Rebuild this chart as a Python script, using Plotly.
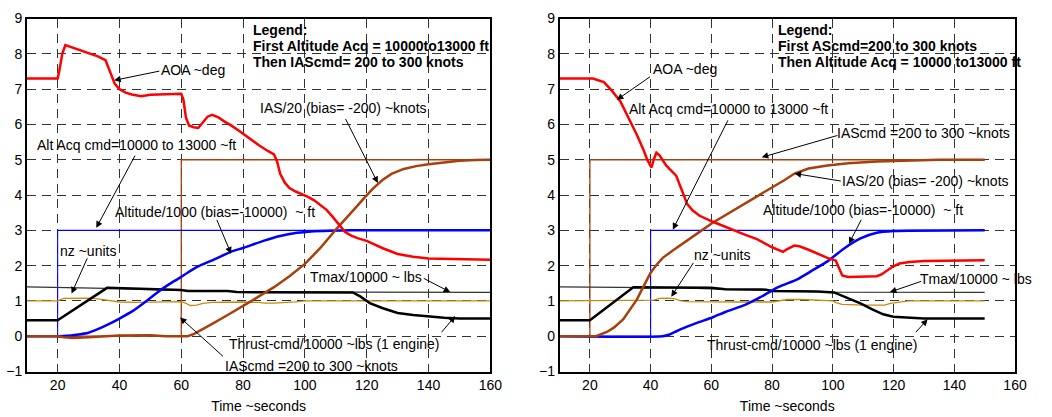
import plotly.graph_objects as go

# ---------------- Left panel: first Altitude Acq, then IAS cmd ----------------
L_aoa_t = [10, 20, 20.5, 21.5, 22.5, 23.5, 26, 29, 33, 35.5, 36.5, 37.5, 38.5, 40, 42, 44, 47, 50, 55, 60,
           60.7, 61.5, 62.5, 64, 65.5, 67, 68.5, 70, 72, 74, 76, 79, 82, 85, 88, 90, 91, 92, 93.5, 95, 97,
           99, 101, 103, 105, 107, 109, 111, 113, 115, 117, 120, 125, 130, 135, 140, 150, 160]
L_aoa_v = [7.3, 7.3, 7.5, 8.0, 8.25, 8.22, 8.15, 8.05, 7.93, 7.82, 7.6, 7.35, 7.15, 7.0, 6.9, 6.85, 6.8, 6.84,
           6.85, 6.87, 6.7, 6.2, 5.97, 5.92, 5.9, 6.05, 6.22, 6.27, 6.2, 6.08, 5.98, 5.8, 5.6, 5.42, 5.25,
           5.15, 4.95, 4.6, 4.35, 4.2, 4.1, 4.03, 3.95, 3.85, 3.72, 3.58, 3.38, 3.15, 2.95, 2.85, 2.78, 2.7,
           2.5, 2.33, 2.25, 2.2, 2.18, 2.17]

L_ias_t = [10, 20, 22, 25, 30, 40, 50, 55, 60, 62, 64, 66, 68, 70, 75, 80, 85, 90, 95, 100, 105, 110, 113,
           116, 119, 122, 125, 128, 132, 136, 140, 145, 150, 155, 160]
L_ias_v = [0, 0, -0.03, -0.05, -0.03, 0.02, 0.03, 0.0, 0.0, 0.0, 0.06, 0.15, 0.25, 0.35, 0.6, 0.85, 1.12,
           1.39, 1.7, 2.05, 2.5, 3.02, 3.3, 3.6, 3.9, 4.18, 4.42, 4.6, 4.74, 4.82, 4.87, 4.93, 4.97, 4.99, 5.0]

L_iascmd_t = [10, 60, 60, 160]
L_iascmd_v = [0, 0, 5, 5]

L_altcmd_t = [10, 20, 20, 160]
L_altcmd_v = [0, 0, 3, 3]

L_alt_t = [10, 20, 23, 26, 30, 33, 36.7, 40, 44.2, 48, 52.7, 56, 59.6, 62, 65.5, 70, 76, 80, 86.8, 92,
           97.5, 102, 108, 115, 160]
L_alt_v = [0, 0, 0.01, 0.04, 0.1, 0.2, 0.35, 0.5, 0.71, 0.95, 1.27, 1.47, 1.66, 1.8, 1.98, 2.15, 2.39,
           2.5, 2.71, 2.84, 2.93, 2.97, 2.99, 3.0, 3.0]

L_tmax_t = [10, 30, 40, 50, 60, 70, 80, 115, 160]
L_tmax_v = [1.4, 1.38, 1.35, 1.32, 1.3, 1.28, 1.26, 1.25, 1.24]

L_thr_t = [10, 20, 36, 45, 55, 60, 62, 75, 78, 100, 115.5, 118, 121, 125, 130, 135, 140, 145, 150, 160]
L_thr_v = [0.45, 0.45, 1.37, 1.35, 1.32, 1.31, 1.28, 1.28, 1.25, 1.25, 1.24, 1.12, 0.94, 0.8, 0.66, 0.6,
           0.55, 0.52, 0.5, 0.5]

L_nz_t = [10, 20, 22, 25, 30, 33, 36, 38, 40, 45, 50, 55, 60, 61, 62, 63, 65, 67, 70, 75, 80, 85, 87, 90,
          95, 97, 100, 110, 120, 160]
L_nz_v = [1, 1, 1.07, 1.08, 1.08, 1.06, 1.02, 0.99, 0.97, 0.96, 0.97, 0.97, 0.98, 0.95, 0.9, 0.87, 0.88,
          0.93, 0.96, 0.97, 0.97, 0.96, 0.94, 0.94, 0.95, 0.97, 1.0, 1.0, 1.0, 1.0]

# ---------------- Right panel: first IAS cmd, then Altitude Acq ----------------
R_aoa_t = [10, 21, 24.6, 27, 30, 33.2, 35.5, 37.6, 39, 40.3, 41, 41.9, 43, 45.1, 47, 48.4, 50, 52, 53.8,
           56, 60.3, 65, 71, 75, 80, 83.6, 85, 87.3, 89, 92, 95, 98.2, 101, 102, 103.1, 105, 110, 114.5,
           116, 118, 119.9, 122, 125.3, 130, 140, 150]
R_aoa_v = [7.3, 7.3, 7.2, 6.98, 6.66, 6.11, 5.7, 5.29, 4.98, 4.78, 5.0, 5.2, 5.12, 4.84, 4.68, 4.55, 4.2,
           3.75, 3.57, 3.42, 3.25, 3.08, 2.88, 2.75, 2.52, 2.39, 2.47, 2.57, 2.55, 2.45, 2.33, 2.22, 2.14,
           1.95, 1.72, 1.68, 1.68, 1.7, 1.75, 1.88, 1.98, 2.06, 2.1, 2.13, 2.15, 2.15]

R_ias_t = [10, 22, 25.6, 28, 31, 33, 35.4, 37, 38.6, 40, 41.9, 44, 47.3, 52, 56, 60.3, 65, 71.1, 75, 79.8,
           84, 87.4, 92, 98.2, 105, 114.5, 125, 135, 150]
R_ias_v = [0, 0, 0.12, 0.25, 0.48, 0.72, 1.03, 1.3, 1.57, 1.8, 2.02, 2.22, 2.43, 2.7, 2.95, 3.21, 3.45,
           3.75, 3.95, 4.2, 4.42, 4.61, 4.75, 4.84, 4.9, 4.95, 4.98, 5.0, 5.0]

R_iascmd_t = [10, 20, 20, 150]
R_iascmd_v = [0, 0, 5, 5]

R_altcmd_t = [10, 40, 40, 150]
R_altcmd_v = [0, 0, 3, 3]

R_alt_t = [10, 44, 46, 48, 50, 55, 60.3, 65, 71.1, 76, 82, 88.5, 93, 98.2, 103.6, 109.1, 114.5, 120,
           125.3, 150]
R_alt_v = [0, 0, 0.04, 0.12, 0.2, 0.37, 0.53, 0.7, 0.89, 1.1, 1.39, 1.62, 1.85, 2.12, 2.48, 2.77, 2.93,
           2.98, 2.99, 3.0]

R_tmax_t = [10, 35, 50, 65, 80, 100, 150]
R_tmax_v = [1.4, 1.39, 1.37, 1.33, 1.3, 1.25, 1.24]

R_thr_t = [10, 20, 34.3, 50, 60, 64.6, 78, 80, 95, 100.4, 104, 109.1, 113, 116.6, 119.9, 125, 130, 150]
R_thr_v = [0.45, 0.45, 1.39, 1.38, 1.37, 1.33, 1.32, 1.28, 1.27, 1.24, 1.12, 0.93, 0.76, 0.62, 0.55,
           0.52, 0.5, 0.5]

R_nz_t = [10, 40, 41, 43, 46, 48, 50, 52, 60, 70, 80, 83, 85, 90, 95, 98, 100, 101, 103, 110, 117, 119,
          122, 125, 150]
R_nz_v = [1, 1, 1.02, 1.07, 1.08, 1.06, 1.0, 0.98, 0.97, 0.97, 0.97, 1.0, 1.04, 1.04, 1.03, 1.02, 1.0,
          0.95, 0.9, 0.88, 0.88, 0.93, 0.97, 1.0, 1.0]

x_ticks = [20, 40, 60, 80, 100, 120, 140, 160]
y_ticks = [-1, 0, 1, 2, 3, 4, 5, 6, 7, 8, 9]

legend_L = ["Legend:", "First Altitude Acq = 10000to13000 ft", "Then IAScmd= 200 to 300 knots"]
legend_R = ["Legend:", "First AScmd=200 to 300 knots", "Then Altitude Acq = 10000 to13000 ft"]

RED = "#ff0000"
BROWN = "#a8400c"
BLUE = "#0000ff"
GOLD = "#c88a10"
FONT = "Liberation Sans, Arial, sans-serif"

fig = go.Figure()


def add_panel(xa, ya, d):
    fig.add_trace(go.Scatter(x=d["iascmd_t"], y=d["iascmd_v"], mode="lines",
                             line=dict(color=BROWN, width=1.3), xaxis=xa, yaxis=ya))
    fig.add_trace(go.Scatter(x=d["altcmd_t"], y=d["altcmd_v"], mode="lines",
                             line=dict(color=BLUE, width=1.1), xaxis=xa, yaxis=ya))
    fig.add_trace(go.Scatter(x=d["tmax_t"], y=d["tmax_v"], mode="lines",
                             line=dict(color="#333333", width=1.2), xaxis=xa, yaxis=ya))
    fig.add_trace(go.Scatter(x=d["nz_t"], y=d["nz_v"], mode="lines",
                             line=dict(color=GOLD, width=1.3), xaxis=xa, yaxis=ya))
    fig.add_trace(go.Scatter(x=d["thr_t"], y=d["thr_v"], mode="lines",
                             line=dict(color="black", width=2.5), xaxis=xa, yaxis=ya))
    fig.add_trace(go.Scatter(x=d["alt_t"], y=d["alt_v"], mode="lines",
                             line=dict(color=BLUE, width=2.5, shape="spline", smoothing=0.6), xaxis=xa, yaxis=ya))
    fig.add_trace(go.Scatter(x=d["ias_t"], y=d["ias_v"], mode="lines",
                             line=dict(color=BROWN, width=2.5), xaxis=xa, yaxis=ya))
    fig.add_trace(go.Scatter(x=d["aoa_t"], y=d["aoa_v"], mode="lines",
                             line=dict(color=RED, width=2.5), xaxis=xa, yaxis=ya))


add_panel("x", "y", dict(aoa_t=L_aoa_t, aoa_v=L_aoa_v, ias_t=L_ias_t, ias_v=L_ias_v,
                         iascmd_t=L_iascmd_t, iascmd_v=L_iascmd_v, altcmd_t=L_altcmd_t, altcmd_v=L_altcmd_v,
                         alt_t=L_alt_t, alt_v=L_alt_v, tmax_t=L_tmax_t, tmax_v=L_tmax_v,
                         thr_t=L_thr_t, thr_v=L_thr_v, nz_t=L_nz_t, nz_v=L_nz_v))
add_panel("x2", "y2", dict(aoa_t=R_aoa_t, aoa_v=R_aoa_v, ias_t=R_ias_t, ias_v=R_ias_v,
                           iascmd_t=R_iascmd_t, iascmd_v=R_iascmd_v, altcmd_t=R_altcmd_t, altcmd_v=R_altcmd_v,
                           alt_t=R_alt_t, alt_v=R_alt_v, tmax_t=R_tmax_t, tmax_v=R_tmax_v,
                           thr_t=R_thr_t, thr_v=R_thr_v, nz_t=R_nz_t, nz_v=R_nz_v))

annotations = []


def label(xr, yr, x, y, text, anchor="center", bold=False, size=14):
    annotations.append(dict(xref=xr, yref=yr, x=x, y=y, text=("<b>%s</b>" % text) if bold else text,
                            showarrow=False, xanchor=anchor, yanchor="middle",
                            font=dict(family=FONT, size=size, color="black")))


def arrow(xr, yr, tail, tip):
    annotations.append(dict(xref=xr, yref=yr, axref=xr, ayref=yr, x=tip[0], y=tip[1], ax=tail[0], ay=tail[1],
                            text="", showarrow=True, arrowhead=2, arrowsize=1.3, arrowwidth=1,
                            arrowcolor="black", standoff=0, startstandoff=0))


# left panel labels
for txt, yv in zip(legend_L, [8.67, 8.22, 7.77]):
    label("x", "y", 82.4, yv, txt, anchor="left", bold=True, size=14)
label("x", "y", 63.9, 7.55, "AOA ~deg")
arrow("x", "y", (53.4, 7.52), (38.3, 7.25))
label("x", "y", 112.5, 6.48, "IAS/20 (bias= -200) ~knots")
arrow("x", "y", (112.9, 6.2), (123.6, 4.34))
label("x", "y", 45.4, 5.43, "Alt Acq cmd=10000 to 13000 ~ft")
arrow("x", "y", (45.3, 5.16), (32.5, 3.07))
label("x", "y", 70.8, 3.52, "Altitude/1000 (bias=-10000)  ~ ft")
arrow("x", "y", (71.3, 3.34), (76.1, 2.34))
label("x", "y", 29.7, 2.42, "nz ~units")
arrow("x", "y", (29.8, 2.25), (24.5, 1.21))
label("x", "y", 119.8, 1.68, "Tmax/10000 ~ lbs")
arrow("x", "y", (138.0, 1.66), (147.0, 1.25))
label("x", "y", 109.6, -0.22, "Thrust-cmd/10000 ~lbs (1 engine)")
arrow("x", "y", (143.8, 0.07), (148.6, 0.57))
label("x", "y", 102.0, -0.85, "IAScmd =200 to 300 ~knots")
arrow("x", "y", (74.0, -0.61), (59.6, 0.53))

# right panel labels
for txt, yv in zip(legend_R, [8.67, 8.22, 7.77]):
    label("x2", "y2", 81.4, yv, txt, anchor="left", bold=True, size=14)
label("x2", "y2", 51.4, 7.58, "AOA ~deg")
arrow("x2", "y2", (40.3, 7.38), (28.9, 6.7))
label("x2", "y2", 65.5, 6.43, "Alt Acq cmd=10000 to 13000 ~ft")
arrow("x2", "y2", (65.7, 6.16), (47.3, 3.02))
label("x2", "y2", 129.9, 5.75, "IAScmd =200 to 300 ~knots")
arrow("x2", "y2", (102.0, 5.70), (76.6, 5.07))
label("x2", "y2", 130.5, 4.39, "IAS/20 (bias= -200) ~knots")
arrow("x2", "y2", (103.1, 4.39), (87.4, 4.61))
label("x2", "y2", 110.0, 3.57, "Altitude/1000 (bias=-10000)  ~ ft")
arrow("x2", "y2", (109.6, 3.34), (105.3, 2.62))
label("x2", "y2", 63.6, 2.3, "nz ~units")
arrow("x2", "y2", (54.4, 2.12), (46.8, 1.12))
label("x2", "y2", 147.3, 1.62, "Tmax/10000 ~ lbs")
arrow("x2", "y2", (129.6, 1.57), (118.8, 1.25))
label("x2", "y2", 93.3, -0.25, "Thrust-cmd/10000 ~lbs (1 engine)")
arrow("x2", "y2", (126.9, 0.07), (131.2, 0.48))

axis_common = dict(showline=True, linecolor="black", linewidth=1.5, mirror=True,
                   showgrid=True, gridcolor="#333333", gridwidth=1, griddash="9px,6px",
                   zeroline=False, ticks="", tickfont=dict(family=FONT, size=14, color="black"))

fig.update_layout(
    width=1052, height=417, margin=dict(l=0, r=0, t=0, b=0),
    paper_bgcolor="white", plot_bgcolor="white", showlegend=False,
    font=dict(family=FONT, size=14, color="black"),
    xaxis=dict(domain=[0.0257, 0.4715], range=[10, 160], tickvals=x_ticks, anchor="y",
               title=dict(text="Time ~seconds", standoff=9, font=dict(size=14)), **axis_common),
    yaxis=dict(domain=[0.0935, 0.9736], range=[-1, 9], tickvals=y_ticks, anchor="x", **axis_common),
    xaxis2=dict(domain=[0.538, 0.976], range=[10, 160], tickvals=x_ticks, anchor="y2",
                title=dict(text="Time ~seconds", standoff=9, font=dict(size=14)), **axis_common),
    yaxis2=dict(domain=[0.0935, 0.9736], range=[-1, 9], tickvals=y_ticks, anchor="x2", **axis_common),
    annotations=annotations,
)

fig.write_html("out.html")
